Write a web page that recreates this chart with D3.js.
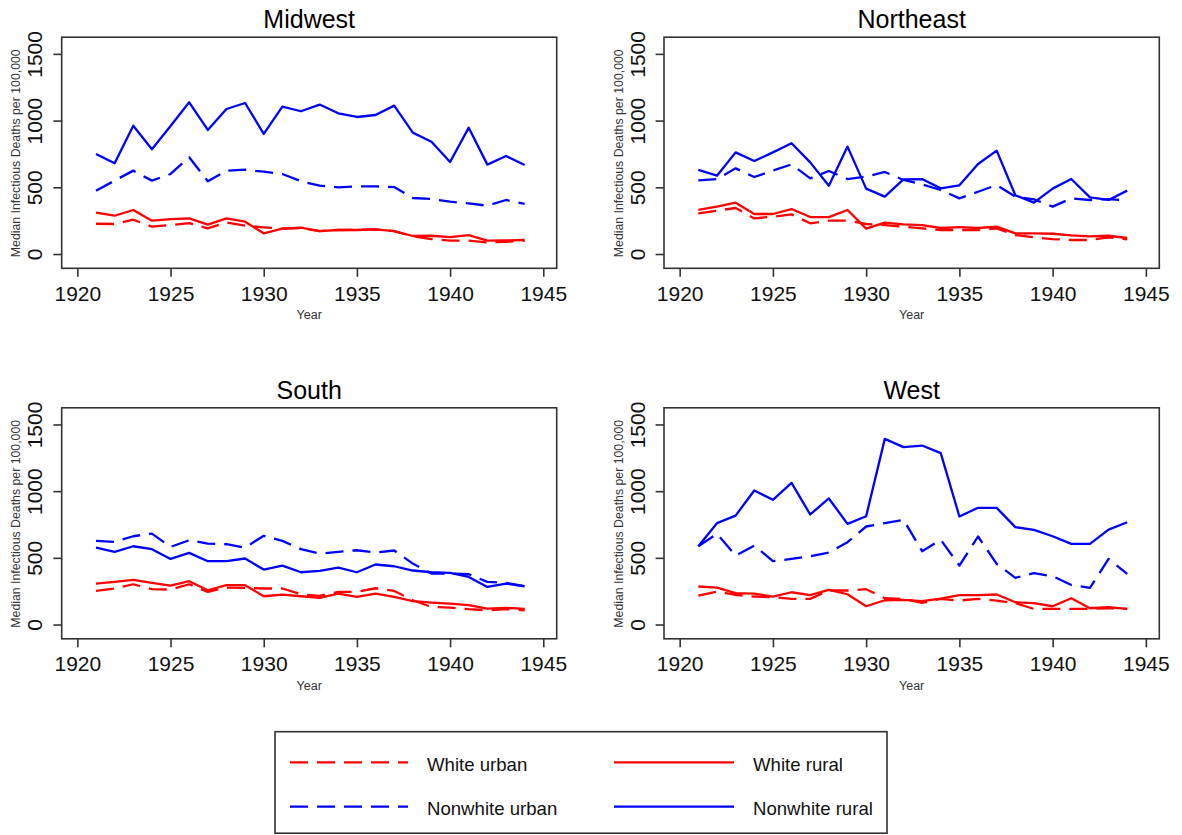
<!DOCTYPE html>
<html>
<head>
<meta charset="utf-8">
<script src="https://cdn.jsdelivr.net/npm/d3@7"></script>
<style>
  html, body { margin: 0; padding: 0; background: #fff; }
  svg { display: block; }
  text { font-family: "Liberation Sans", Arial, Helvetica, sans-serif; }
</style>
</head>
<body>
<svg id="chart" width="1182" height="835"></svg>
<script>
// ---------------- DATA ----------------
const years = d3.range(1921, 1945);
const xTicks = [1920, 1925, 1930, 1935, 1940, 1945];
const yTicks = [0, 500, 1000, 1500];
const regions = ["Midwest", "Northeast", "South", "West"];
const seriesNames = ["White urban", "White rural", "Nonwhite urban", "Nonwhite rural"];

const midwestWhiteUrban    = [227,225,257,205,217,232,192,237,212,200,190,195,172,180,182,185,172,132,112,100,100,87,92,100];
const midwestWhiteRural    = [310,287,330,250,262,267,220,267,242,155,190,197,172,180,180,185,172,135,137,127,142,100,102,105];
const midwestNonwhiteUrban = [475,550,625,550,600,725,545,625,632,617,600,545,512,500,507,507,502,420,412,392,380,362,405,375];
const midwestNonwhiteRural = [750,680,962,785,960,1137,930,1087,1132,900,1105,1070,1120,1055,1027,1042,1112,910,842,690,947,670,735,667];

const northeastWhiteUrban    = [305,325,345,267,280,297,230,250,250,225,217,205,192,180,180,180,192,142,125,112,105,105,125,110];
const northeastWhiteRural    = [330,355,385,300,300,337,277,277,330,190,235,222,217,195,202,195,205,155,155,152,140,132,137,120];
const northeastNonwhiteUrban = [552,562,642,577,625,672,567,622,562,580,615,555,522,480,417,467,517,430,410,355,417,405,412,400];
const northeastNonwhiteRural = [630,587,762,697,762,830,687,512,805,490,430,560,562,492,515,675,775,440,385,490,562,425,405,475];

const southWhiteUrban    = [252,270,302,265,262,302,245,277,275,270,270,227,215,245,245,272,252,182,132,127,115,107,115,107];
const southWhiteRural    = [307,320,335,312,292,325,257,295,295,212,225,212,200,232,207,232,207,175,165,157,145,120,125,117];
const southNonwhiteUrban = [627,620,662,682,582,632,607,602,577,665,627,565,532,545,557,540,555,457,382,382,377,320,312,287];
const southNonwhiteRural = [577,545,587,565,492,537,475,475,495,412,442,392,402,427,392,450,437,405,392,387,357,282,307,287];

const westWhiteUrban    = [217,247,222,210,205,192,192,255,255,265,197,192,162,192,180,192,180,160,117,117,117,117,122,117];
const westWhiteRural    = [285,277,235,232,210,242,220,260,227,137,182,185,175,195,220,220,225,167,160,137,197,122,130,117];
const westNonwhiteUrban = [587,680,517,592,475,492,512,540,617,735,760,785,550,635,442,660,455,350,385,362,297,275,492,380];
const westNonwhiteRural = [587,760,817,1005,935,1062,825,945,755,812,1392,1330,1342,1285,810,875,875,730,710,662,605,605,712,767];

// ---------------- STYLE ----------------
const panelData = {
  Midwest:   [midwestWhiteUrban, midwestWhiteRural, midwestNonwhiteUrban, midwestNonwhiteRural],
  Northeast: [northeastWhiteUrban, northeastWhiteRural, northeastNonwhiteUrban, northeastNonwhiteRural],
  South:     [southWhiteUrban, southWhiteRural, southNonwhiteUrban, southNonwhiteRural],
  West:      [westWhiteUrban, westWhiteRural, westNonwhiteUrban, westNonwhiteRural]
};
const seriesColor = ["#ff0000", "#ff0000", "#0000ff", "#0000ff"];
const seriesDash  = ["18,9", null, "18,9", null];

const panelBoxes = {
  Midwest:   {L: 61.7,  R: 556.7,  T: 37.2,  B: 268.3},
  Northeast: {L: 664.0, R: 1159.3, T: 37.2,  B: 268.3},
  South:     {L: 61.7,  R: 556.7,  T: 407.8, B: 638.8},
  West:      {L: 664.0, R: 1159.3, T: 407.8, B: 638.8}
};

const svg = d3.select("#chart");
const frameColor = "#333";

regions.forEach(region => {
  const b = panelBoxes[region];
  const x = d3.scaleLinear().domain([1919.16, 1945.72]).range([b.L, b.R]);
  const y = d3.scaleLinear().domain([-107, 1625]).range([b.B, b.T]);
  const g = svg.append("g");

  // title
  g.append("text")
    .attr("x", (b.L + b.R) / 2).attr("y", b.T - 8.9)
    .attr("text-anchor", "middle")
    .attr("font-size", 25).attr("fill", "#000")
    .text(region);

  // x axis
  const xAxis = g.append("g")
    .attr("transform", `translate(0,${b.B})`)
    .call(d3.axisBottom(x).tickValues(xTicks).tickFormat(d3.format("d")).tickSize(8.5).tickSizeOuter(0).tickPadding(9));
  xAxis.select(".domain").remove();
  xAxis.selectAll("line").attr("stroke", frameColor).attr("stroke-width", 1.6);
  xAxis.selectAll("text").attr("font-size", 21).attr("fill", "#111").attr("font-family", null);

  // y axis
  const yAxis = g.append("g")
    .attr("transform", `translate(${b.L},0)`)
    .call(d3.axisLeft(y).tickValues(yTicks).tickFormat(d3.format("d")).tickSize(8.4).tickSizeOuter(0));
  yAxis.select(".domain").remove();
  yAxis.selectAll("line").attr("stroke", frameColor).attr("stroke-width", 1.6);
  yAxis.selectAll("text")
    .attr("x", null).attr("dy", null)
    .attr("text-anchor", "middle")
    .attr("transform", "translate(-19.5,0) rotate(-90)")
    .attr("font-size", 21).attr("fill", "#111").attr("font-family", null);

  // axis titles
  g.append("text")
    .attr("x", (b.L + b.R) / 2).attr("y", b.B + 50.8)
    .attr("text-anchor", "middle").attr("font-size", 12.5).attr("fill", "#333")
    .text("Year");
  g.append("text")
    .attr("transform", `translate(${b.L - 41.5},${(b.T + b.B) / 2 + 0.5}) rotate(-90)`)
    .attr("text-anchor", "middle").attr("font-size", 12.3).attr("fill", "#333")
    .text("Median Infectious Deaths per 100,000");

  // lines
  const line = d3.line().x((d, i) => x(years[i])).y(d => y(d));
  panelData[region].forEach((vals, si) => {
    g.append("path")
      .datum(vals)
      .attr("d", line)
      .attr("fill", "none")
      .attr("stroke", seriesColor[si])
      .attr("stroke-width", 2.3)
      .attr("stroke-linejoin", "round")
      .attr("stroke-dasharray", seriesDash[si]);
  });

  // frame
  g.append("rect")
    .attr("x", b.L).attr("y", b.T)
    .attr("width", b.R - b.L).attr("height", b.B - b.T)
    .attr("fill", "none").attr("stroke", frameColor).attr("stroke-width", 1.6);
});

// ---------------- LEGEND ----------------
const legend = svg.append("g");
legend.append("rect")
  .attr("x", 275).attr("y", 731.7).attr("width", 612).attr("height", 101.5)
  .attr("fill", "none").attr("stroke", frameColor).attr("stroke-width", 1.6);

const legendOrder = [0, 1, 2, 3];
const legendPos = [
  {x1: 290, x2: 408, tx: 427, y: 762.3},
  {x1: 614, x2: 734, tx: 753, y: 762.3},
  {x1: 290, x2: 408, tx: 427, y: 806.7},
  {x1: 614, x2: 734, tx: 753, y: 806.7}
];
legendOrder.forEach((si, k) => {
  const p = legendPos[k];
  legend.append("line")
    .attr("x1", p.x1).attr("x2", p.x2).attr("y1", p.y).attr("y2", p.y)
    .attr("stroke", seriesColor[si]).attr("stroke-width", 2.3)
    .attr("stroke-dasharray", seriesDash[si]);
  legend.append("text")
    .attr("x", p.tx).attr("y", p.y + 8.3)
    .attr("font-size", 18.6).attr("fill", "#111")
    .text(seriesNames[si]);
});
</script>
</body>
</html>
